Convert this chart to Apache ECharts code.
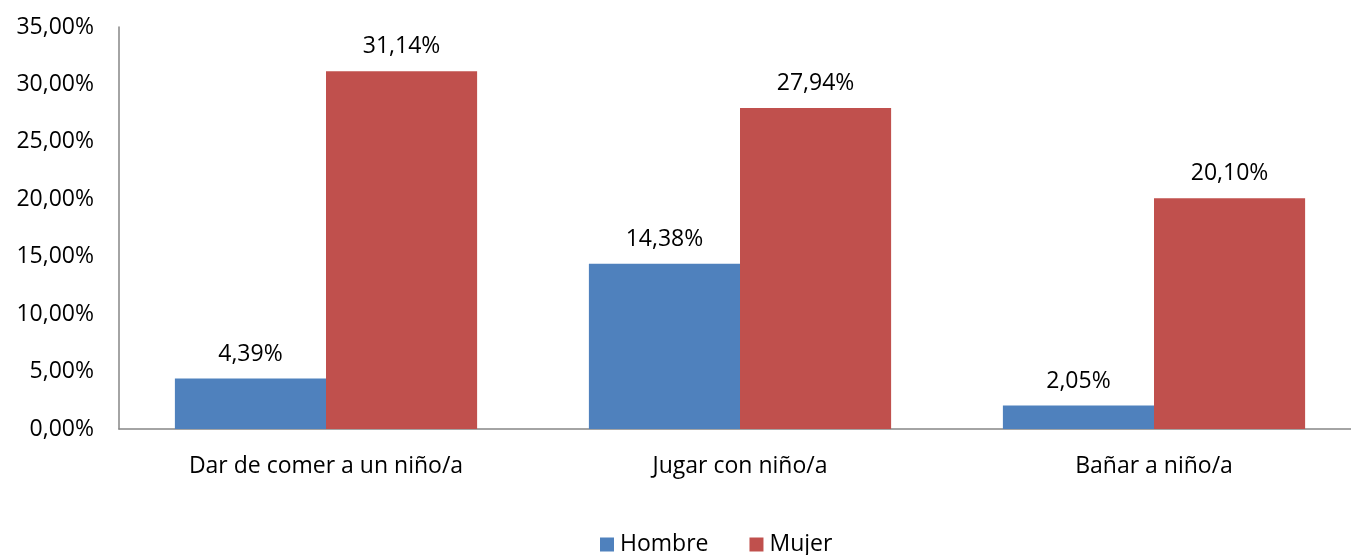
<!DOCTYPE html>
<html>
<head>
<meta charset="utf-8">
<script src="https://cdn.jsdelivr.net/npm/echarts@6/dist/echarts.min.js"></script>
<style>
  html, body { margin: 0; padding: 0; background: #fff; }
  #chart { width: 1351px; height: 555px; }
</style>
</head>
<body>
<div id="chart"></div>
<script>
// Share of respondents per caregiving task, by gender (percent)
const categories = ['Dar de comer a un niño/a', 'Jugar con niño/a', 'Bañar a niño/a'];
const hombre = [4.39, 14.38, 2.05];
const mujer = [31.14, 27.94, 20.10];
const seriesNames = ['Hombre', 'Mujer'];

const FONT = '"Open Sans", sans-serif';
const FS = 23;
const pct = v => v.toFixed(2).replace('.', ',') + '%';

const chart = echarts.init(document.getElementById('chart'), null, { renderer: 'canvas' });

const labelStyle = {
  show: true,
  position: 'top',
  distance: 13,
  color: '#000',
  fontFamily: FONT,
  fontSize: FS,
  formatter: p => pct(p.value)
};

chart.setOption({
  animation: false,
  backgroundColor: '#fff',
  grid: { left: 119, top: 27, width: 1242, height: 402, outerBoundsMode: 'none' },
  legend: {
    data: seriesNames,
    left: 600,
    top: 533,
    padding: 0,
    itemWidth: 14,
    itemHeight: 14,
    itemGap: 41,
    icon: 'rect',
    textStyle: { fontFamily: FONT, fontSize: FS, color: '#000', padding: [0, 0, 0, 1] }
  },
  xAxis: {
    type: 'category',
    data: categories,
    axisLine: { lineStyle: { color: '#868686', width: 1.5 } },
    axisTick: { show: false },
    axisLabel: { color: '#000', fontFamily: FONT, fontSize: FS, margin: 26 }
  },
  yAxis: {
    type: 'value',
    min: 0,
    max: 35,
    interval: 5,
    axisLine: { show: true, lineStyle: { color: '#868686', width: 1.5 } },
    axisTick: { show: false },
    splitLine: { show: false },
    axisLabel: {
      color: '#000', fontFamily: FONT, fontSize: FS, margin: 25,
      formatter: v => pct(v)
    }
  },
  series: [
    {
      name: seriesNames[0],
      type: 'bar',
      data: hombre,
      barGap: '0%',
      barCategoryGap: '27%',
      itemStyle: { color: '#4F81BD' },
      label: labelStyle
    },
    {
      name: seriesNames[1],
      type: 'bar',
      data: mujer,
      barGap: '0%',
      barCategoryGap: '27%',
      itemStyle: { color: '#C0504D' },
      label: labelStyle
    }
  ]
});
</script>
</body>
</html>
